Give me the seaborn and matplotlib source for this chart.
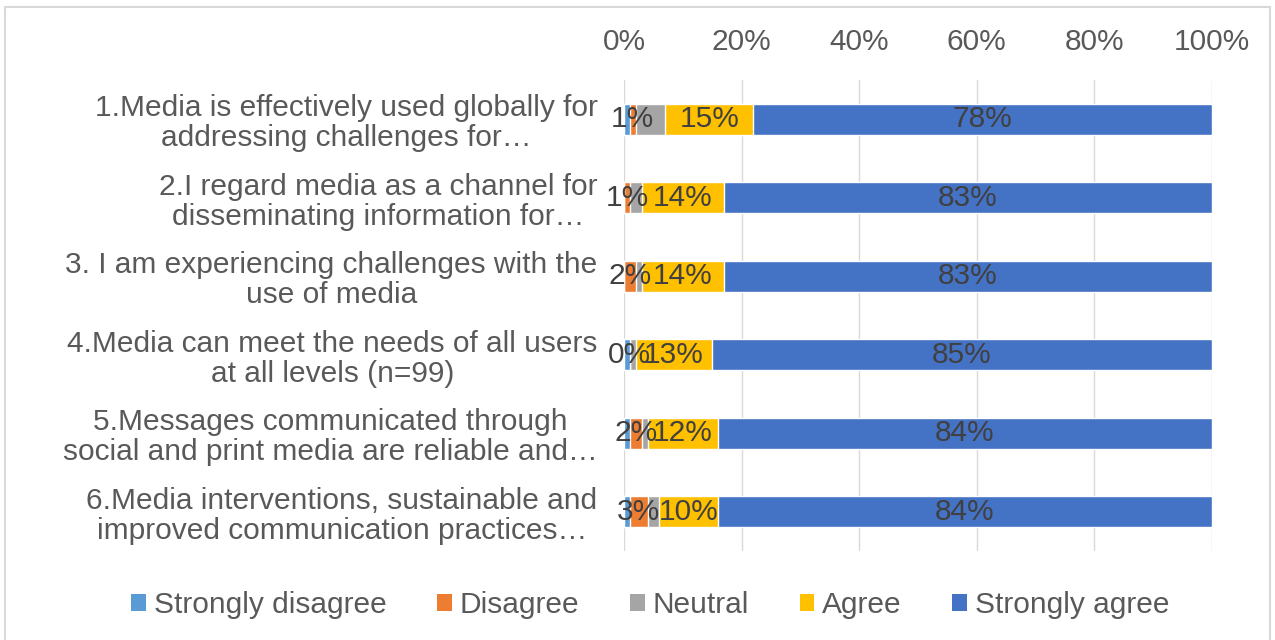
import matplotlib
matplotlib.use("Agg")
import matplotlib.pyplot as plt
import seaborn as sns
import numpy as np
import pandas as pd
from matplotlib.patches import Rectangle, Patch

categories = [
    "1.Media is effectively used globally for\naddressing challenges for…",
    "2.I regard media as a channel for\ndisseminating information for…",
    "3. I am experiencing challenges with the\nuse of media",
    "4.Media can meet the needs of all users\nat all levels (n=99)",
    "5.Messages communicated through\nsocial and print media are reliable and…",
    "6.Media interventions, sustainable and\nimproved communication practices…",
]
strongly_disagree = [1, 0, 0, 1, 1, 1]
disagree = [1, 1, 2, 0, 2, 3]
neutral = [5, 2, 1, 1, 1, 2]
agree = [15, 14, 14, 13, 12, 10]
strongly_agree = [78, 83, 83, 85, 84, 84]

series_names = ["Strongly disagree", "Disagree", "Neutral", "Agree", "Strongly agree"]
series_vals = [strongly_disagree, disagree, neutral, agree, strongly_agree]
colors = ["#5B9BD5", "#ED7D31", "#A5A5A5", "#FFC000", "#4472C4"]
labeled = [False, True, False, True, True]
xticks = [0, 20, 40, 60, 80, 100]
xtick_labels = ["0%", "20%", "40%", "60%", "80%", "100%"]

sns.set_theme(style="white")
plt.rcParams["font.family"] = ["Liberation Sans", "DejaVu Sans"]

FS = 21.5

fig = plt.figure(figsize=(12.75, 6.4), dpi=100)
ax = fig.add_axes([0.4894, 0.139, 0.4612, 0.736])

vals = np.array(series_vals, dtype=float)
cum = np.cumsum(vals, axis=0)
starts = cum - vals

# draw cumulative bars, longest first
for i in range(len(series_names) - 1, -1, -1):
    df = pd.DataFrame({"cat": categories, "val": cum[i]})
    sns.barplot(data=df, x="val", y="cat", orient="h", color=colors[i],
                saturation=1, width=0.4, ax=ax, zorder=3)

for i in range(len(series_names)):
    if not labeled[i]:
        continue
    for j in range(len(categories)):
        xc = starts[i, j] + vals[i, j] / 2
        ax.text(xc, j, f"{int(vals[i, j])}%", ha="center", va="center",
                fontsize=FS, color="#404040", zorder=5)

ax.set_xlim(0, 100)
ax.set_ylim(5.5, -0.5)
ax.set_xticks(xticks)
ax.set_xticklabels(xtick_labels)
ax.xaxis.tick_top()
ax.tick_params(axis="x", length=0, pad=17, labelsize=FS, labelcolor="#595959")
ax.tick_params(axis="y", length=0, pad=19, labelsize=FS, labelcolor="#595959")
for lab in ax.get_yticklabels():
    lab.set_multialignment("center")
    lab.set_linespacing(1.1)
ax.set_xlabel("")
ax.set_ylabel("")
ax.grid(axis="x", color="#D9D9D9", linewidth=1, zorder=0)
ax.grid(axis="y", visible=False)
for s in ax.spines.values():
    s.set_visible(False)

handles = [Patch(facecolor=c, edgecolor="none") for c in colors]
fig.legend(handles, series_names, loc="center", bbox_to_anchor=(0.51, 0.054),
           ncol=5, frameon=False, fontsize=FS, handlelength=0.5, handleheight=0.5,
           handletextpad=0.25, columnspacing=1.7, labelcolor="#595959")

fig.patches.append(Rectangle((0.004, -0.01), 0.992, 0.999, transform=fig.transFigure,
                             fill=False, edgecolor="#D9D9D9", linewidth=1.5))

fig.savefig("out.png", dpi=100)
